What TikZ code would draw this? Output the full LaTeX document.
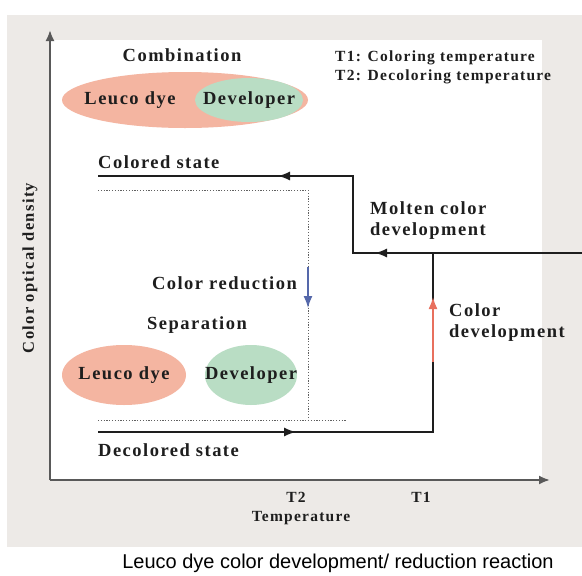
\documentclass[tikz,border=0pt]{standalone}
\usepackage{fontspec}
\setmainfont{Liberation Serif}
\newfontfamily\lblfont[LetterSpace=8]{Liberation Serif}
\newfontfamily\capfont{Liberation Sans}
\usetikzlibrary{shapes.geometric,arrows.meta}
\definecolor{panelgray}{HTML}{EDEAE7}
\definecolor{dyecol}{HTML}{F4B5A1}
\definecolor{devcol}{HTML}{B9DDC4}
\definecolor{inkcol}{HTML}{1E1E1E}
\definecolor{redarr}{HTML}{E8705E}
\definecolor{bluearr}{HTML}{5568AA}

\begin{document}
\begin{tikzpicture}[x=1pt,y=-1pt,
        lbl/.style={text=inkcol,font=\lblfont\bfseries\fontsize{18.5}{21}\selectfont,inner sep=0pt},
        small/.style={text=inkcol,font=\lblfont\bfseries\fontsize{15.5}{19}\selectfont,inner sep=0pt},
        blob/.style={ellipse,inner sep=0pt,draw=none},
        trace/.style={draw=inkcol,line width=1.4pt},
        dots/.style={draw=inkcol!70,line width=1pt,dash pattern=on 1.2pt off 1.6pt},
        tip/.style={-{Latex[length=12pt,width=9pt]},line width=1.4pt},
        axis/.style={draw=black!65,line width=2pt,-{Latex[length=11pt,width=9pt]}}]
        \useasboundingbox (0,0) rectangle (582,576);
        \fill [panelgray] (7,15) rectangle (582,547);
        \fill [white] (50,40) rectangle (542,480);

        \coordinate (orig) at (50,480);
        \coordinate (ytop) at (50,30);
        \coordinate (xend) at (550,480);
        \draw [axis] (orig) -- (ytop);
        \draw [axis] (orig) -- (xend);

        \node [lbl] (comb) at (182,55) {Combination};
        \node [small,anchor=west,align=left] (legend) at (335,67)
            {T1: Coloring temperature\\T2: Decoloring temperature};
        \node [blob,fill=dyecol,minimum width=246pt,minimum height=56pt] (combdye) at (185,100) {};
        \node [blob,fill=devcol,minimum width=108pt,minimum height=44pt] (combdev) at (249,100) {};
        \node [lbl] (combdyetxt) at (130,100) {Leuco dye};
        \node [lbl] at (combdev) {Developer};

        \coordinate (inR) at (582,253);
        \coordinate (kneeA) at (353,253);
        \coordinate (kneeB) at (353,176);
        \coordinate (colL) at (98,176);
        \coordinate (arrA) at (375,253);
        \coordinate (arrB) at (278,176);
        \draw [trace] (inR) -- (kneeA) -- (kneeB) -- (colL);
        \draw [tip,inkcol] (inR) -- (arrA);
        \draw [tip,inkcol] (kneeB) -- (arrB);

        \coordinate (decL) at (98,432);
        \coordinate (decR) at (433,432);
        \coordinate (riseT) at (433,253);
        \coordinate (arrC) at (296,432);
        \draw [trace] (decL) -- (decR) -- (riseT);
        \draw [tip,inkcol] (decL) -- (arrC);

        \coordinate (dotL) at (98,190);
        \coordinate (dotK) at (308,190);
        \coordinate (dotB) at (308,420);
        \coordinate (dotBL) at (98,420);
        \coordinate (dotBR) at (347,420);
        \draw [dots] (dotL) -- (dotK) -- (dotB);
        \draw [dots] (dotBL) -- (dotBR);

        \coordinate (blueS) at (308,267);
        \coordinate (blueE) at (308,308);
        \draw [tip,bluearr,line width=1.6pt] (blueS) -- (blueE);
        \coordinate (redS) at (433,362);
        \coordinate (redE) at (433,297);
        \draw [tip,redarr,line width=1.8pt] (redS) -- (redE);

        \node [lbl,anchor=west] (colored) at (98,162) {Colored state};
        \node [lbl,anchor=west,align=left] (molten) at (370,221) {Molten color\\development};
        \node [lbl,anchor=east] (reduc) at (297,283) {Color reduction};
        \node [lbl,anchor=west] (sep) at (147,325) {Separation};
        \node [lbl,anchor=west,align=left] (coldev) at (449,323) {Color\\development};

        \node [blob,fill=dyecol,minimum width=124pt,minimum height=60pt] (sepdye) at (124,375) {};
        \node [lbl] at (sepdye) {Leuco dye};
        \node [blob,fill=devcol,minimum width=92pt,minimum height=60pt] (sepdev) at (251,375) {};
        \node [lbl] at (sepdev) {Developer};

        \node [lbl,anchor=west] (decol) at (98,450) {Decolored state};

        \node [small] (tlow) at (296,497) {T2};
        \node [small] (thigh) at (421,497) {T1};
        \node [small] (temp) at (301,518) {Temperature};
        \node [small,font=\lblfont\bfseries\fontsize{16.5}{19}\selectfont,rotate=90] (ylab) at (30,268) {Color optical density};

        \node [text=black,font=\capfont\fontsize{20}{24}\selectfont,inner sep=0pt] (caption) at (338,563)
            {Leuco dye color development/ reduction reaction};
\end{tikzpicture}
\end{document}
